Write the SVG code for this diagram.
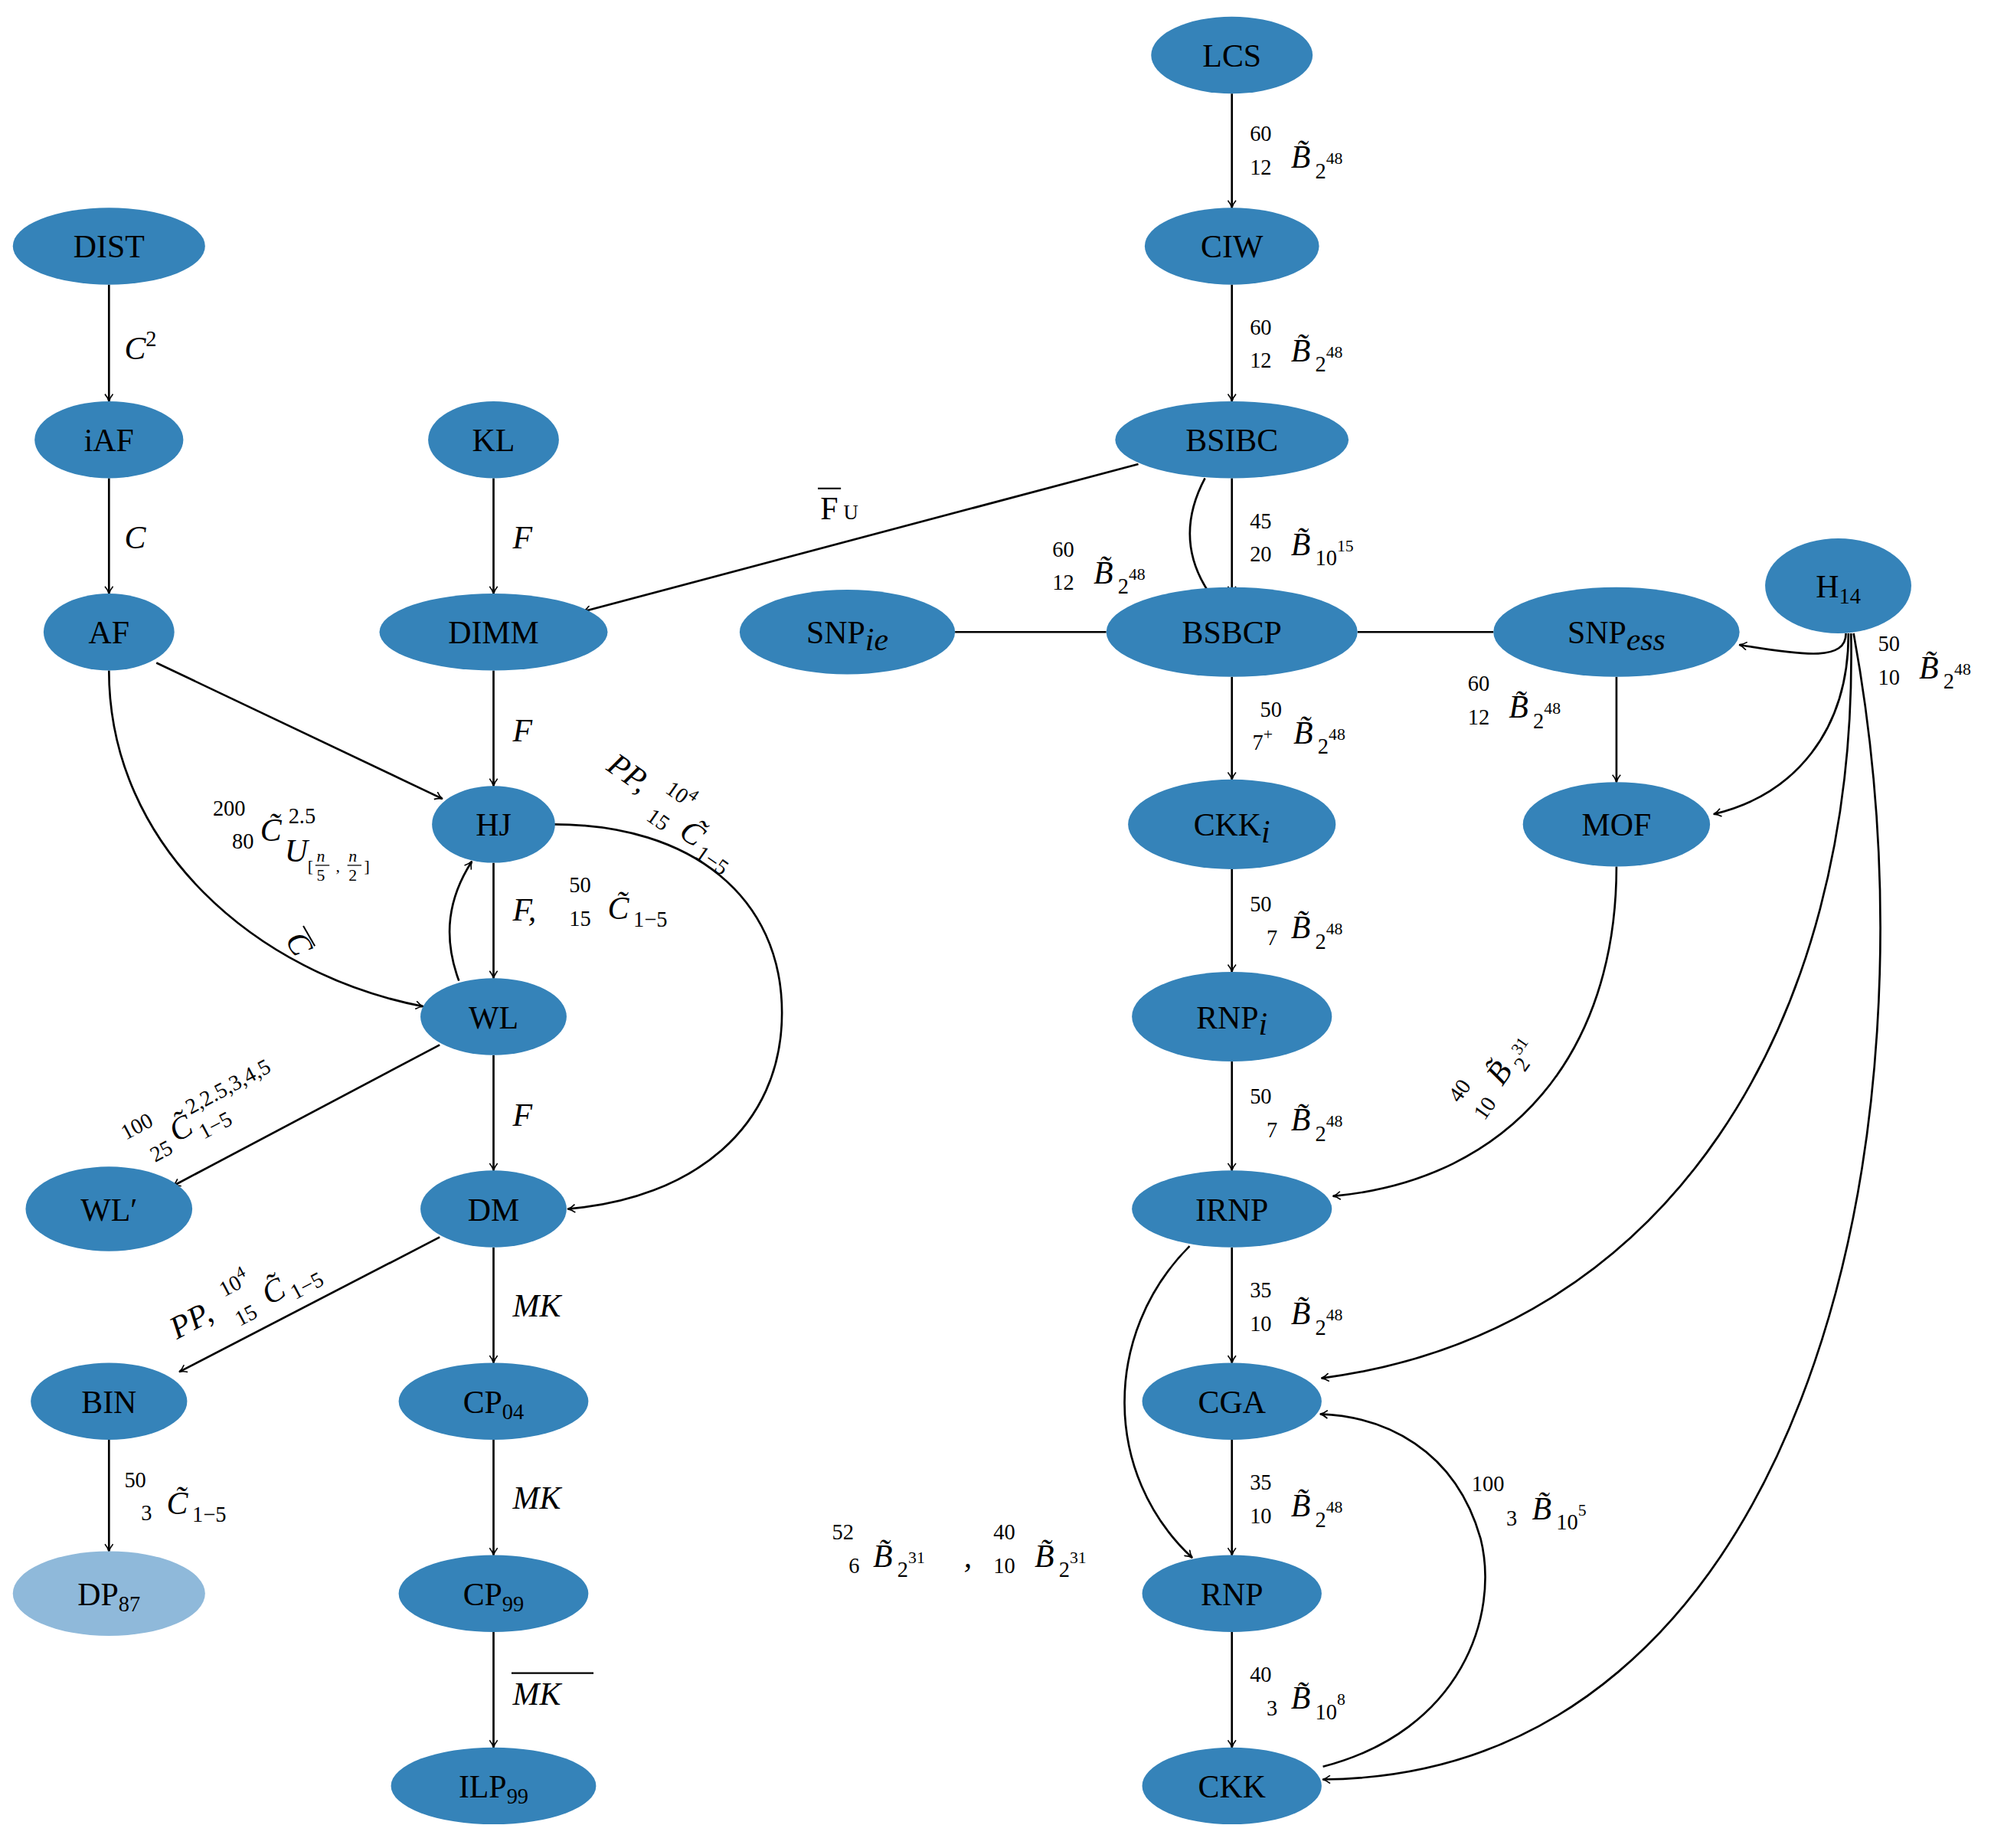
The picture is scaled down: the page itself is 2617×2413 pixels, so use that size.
<svg xmlns="http://www.w3.org/2000/svg" width="2617" height="2413" viewBox="0 0 2617 2413">
<style>
.n{fill:#3583b9}
.t{font-family:"Liberation Serif",serif;font-size:25px;fill:#000;text-anchor:middle}
.ts{font-family:"Liberation Serif",serif;font-size:16px}
.m{font-family:"Liberation Serif",serif;font-size:25px;font-style:italic}
.s{font-family:"Liberation Serif",serif;font-size:17px}
.ss{font-family:"Liberation Serif",serif;font-size:13px}
.e{fill:none;stroke:#000;stroke-width:1.6}
.a{marker-end:url(#ar)}
</style>
<defs>
<marker id="ar" viewBox="0 0 10 10" refX="9" refY="5" markerWidth="7" markerHeight="7" markerUnits="userSpaceOnUse" orient="auto">
<path d="M1,0.5 Q5,4 9.5,5 Q5,6 1,9.5" fill="none" stroke="#000" stroke-width="1.4"/>
</marker>
</defs>
<rect width="2617" height="2413" fill="#fff"/>
<g transform="scale(1.674)">
<g id="connectors">
<path class="e a" d="M961,73V162"/>
<path class="e a" d="M961,222V313"/>
<path class="e a" d="M961,373V463"/>
<path class="e a" d="M961,528V608"/>
<path class="e a" d="M961,678V758"/>
<path class="e a" d="M961,828V913"/>
<path class="e a" d="M961,973V1063"/>
<path class="e a" d="M961,1123V1213"/>
<path class="e a" d="M961,1273V1363"/>
<path class="e a" d="M1261,528V610"/>
<path class="e a" d="M85,222V313"/>
<path class="e a" d="M85,373V463"/>
<path class="e a" d="M385,373V463"/>
<path class="e a" d="M385,523V613"/>
<path class="e a" d="M385,673V763"/>
<path class="e a" d="M385,823V913"/>
<path class="e a" d="M385,973V1063"/>
<path class="e a" d="M385,1123V1213"/>
<path class="e a" d="M385,1273V1363"/>
<path class="e a" d="M85,1123V1210"/>
<path class="e a" d="M888,362L455,477"/>
<path class="e" d="M940,373Q915,420 943,462"/>
<path class="e" d="M745,493H863"/>
<path class="e" d="M1059,493H1165"/>
<path class="e a" d="M1440,494C1440,515 1410,512 1357,503"/>
<path class="e a" d="M1442,494C1442,570 1400,620 1337,635"/>
<path class="e a" d="M1444,494C1450,800 1300,1040 1031,1075"/>
<path class="e a" d="M1446,494C1520,900 1400,1385 1032,1388"/>
<path class="e a" d="M1261,676C1261,820 1180,920 1040,933"/>
<path class="e a" d="M928,972C860,1040 860,1150 930,1215"/>
<path class="e a" d="M1032,1378C1140,1350 1170,1260 1155,1200C1135,1130 1080,1105 1030,1103"/>
<path class="e a" d="M122,517L345,623"/>
<path class="e a" d="M85,523C85,660 200,760 330,785"/>
<path class="e a" d="M432,643C540,643 610,700 610,790C610,880 540,935 443,943"/>
<path class="e a" d="M358,765C345,730 350,700 368,672"/>
<path class="e a" d="M343,815L135,925"/>
<path class="e a" d="M343,965L140,1070"/>
</g>
<g id="LCS"><ellipse class="n" cx="961" cy="43" rx="63" ry="30"/><text class="t" x="961" y="52">LCS</text></g>
<g id="CIW"><ellipse class="n" cx="961" cy="192" rx="68" ry="30"/><text class="t" x="961" y="201">CIW</text></g>
<g id="BSIBC"><ellipse class="n" cx="961" cy="343" rx="91" ry="30"/><text class="t" x="961" y="352">BSIBC</text></g>
<g id="DIST"><ellipse class="n" cx="85" cy="192" rx="75" ry="30"/><text class="t" x="85" y="201">DIST</text></g>
<g id="iAF"><ellipse class="n" cx="85" cy="343" rx="58" ry="30"/><text class="t" x="85" y="352">iAF</text></g>
<g id="KL"><ellipse class="n" cx="385" cy="343" rx="51" ry="30"/><text class="t" x="385" y="352">KL</text></g>
<g id="AF"><ellipse class="n" cx="85" cy="493" rx="51" ry="30"/><text class="t" x="85" y="502">AF</text></g>
<g id="DIMM"><ellipse class="n" cx="385" cy="493" rx="89" ry="30"/><text class="t" x="385" y="502">DIMM</text></g>
<g id="SNPie"><ellipse class="n" cx="661" cy="493" rx="84" ry="33"/><text class="t" x="661" y="502">SNP<tspan class="m" font-size="17" dy="5">ie</tspan></text></g>
<g id="BSBCP"><ellipse class="n" cx="961" cy="493" rx="98" ry="35"/><text class="t" x="961" y="502">BSBCP</text></g>
<g id="SNPess"><ellipse class="n" cx="1261" cy="493" rx="96" ry="35"/><text class="t" x="1261" y="502">SNP<tspan class="m" font-size="17" dy="5">ess</tspan></text></g>
<g id="H14"><ellipse class="n" cx="1434" cy="457" rx="57" ry="37"/><text class="t" x="1434" y="466">H<tspan font-size="17" dy="5">14</tspan></text></g>
<g id="HJ"><ellipse class="n" cx="385" cy="643" rx="48" ry="30"/><text class="t" x="385" y="652">HJ</text></g>
<g id="CKKi"><ellipse class="n" cx="961" cy="643" rx="81" ry="35"/><text class="t" x="961" y="652">CKK<tspan class="m" font-size="17" dy="5">i</tspan></text></g>
<g id="MOF"><ellipse class="n" cx="1261" cy="643" rx="73" ry="33"/><text class="t" x="1261" y="652">MOF</text></g>
<g id="WL"><ellipse class="n" cx="385" cy="793" rx="57" ry="30"/><text class="t" x="385" y="802">WL</text></g>
<g id="RNPi"><ellipse class="n" cx="961" cy="793" rx="78" ry="35"/><text class="t" x="961" y="802">RNP<tspan class="m" font-size="17" dy="5">i</tspan></text></g>
<g id="WLp"><ellipse class="n" cx="85" cy="943" rx="65" ry="33"/><text class="t" x="85" y="952">WL′</text></g>
<g id="DM"><ellipse class="n" cx="385" cy="943" rx="57" ry="30"/><text class="t" x="385" y="952">DM</text></g>
<g id="IRNP"><ellipse class="n" cx="961" cy="943" rx="78" ry="30"/><text class="t" x="961" y="952">IRNP</text></g>
<g id="BIN"><ellipse class="n" cx="85" cy="1093" rx="61" ry="30"/><text class="t" x="85" y="1102">BIN</text></g>
<g id="CP04"><ellipse class="n" cx="385" cy="1093" rx="74" ry="30"/><text class="t" x="385" y="1102">CP<tspan font-size="17" dy="5">04</tspan></text></g>
<g id="CGA"><ellipse class="n" cx="961" cy="1093" rx="70" ry="30"/><text class="t" x="961" y="1102">CGA</text></g>
<g id="DP87"><ellipse cx="85" cy="1243" rx="75" ry="33" fill="#8fb9da"/><text class="t" x="85" y="1252">DP<tspan font-size="17" dy="5">87</tspan></text></g>
<g id="CP99"><ellipse class="n" cx="385" cy="1243" rx="74" ry="30"/><text class="t" x="385" y="1252">CP<tspan font-size="17" dy="5">99</tspan></text></g>
<g id="RNP"><ellipse class="n" cx="961" cy="1243" rx="70" ry="30"/><text class="t" x="961" y="1252">RNP</text></g>
<g id="ILP99"><ellipse class="n" cx="385" cy="1393" rx="80" ry="30"/><text class="t" x="385" y="1402">ILP<tspan font-size="17" dy="5">99</tspan></text></g>
<g id="CKK"><ellipse class="n" cx="961" cy="1393" rx="70" ry="30"/><text class="t" x="961" y="1402">CKK</text></g>
<g id="labels">
<g><text class="s" x="975" y="110">60</text><text class="s" x="975" y="136">12</text><text class="m" x="1007" y="131">B̃</text><text class="s" x="1026" y="139">2<tspan class="ss" dy="-11">48</tspan></text></g>
<g><text class="s" x="975" y="261">60</text><text class="s" x="975" y="287">12</text><text class="m" x="1007" y="282">B̃</text><text class="s" x="1026" y="290">2<tspan class="ss" dy="-11">48</tspan></text></g>
<g><text class="s" x="975" y="412">45</text><text class="s" x="975" y="438">20</text><text class="m" x="1007" y="433">B̃</text><text class="s" x="1026" y="441">10<tspan class="ss" dy="-11">15</tspan></text></g>
<g><text class="s" x="821" y="434">60</text><text class="s" x="821" y="460">12</text><text class="m" x="853" y="455">B̃</text><text class="s" x="872" y="463">2<tspan class="ss" dy="-11">48</tspan></text></g>
<g><text class="s" x="983" y="559">50</text><text class="s" x="977" y="585">7<tspan class="ss" dy="-8">+</tspan></text><text class="m" x="1009" y="580">B̃</text><text class="s" x="1028" y="588">2<tspan class="ss" dy="-11">48</tspan></text></g>
<g><text class="s" x="1145" y="539">60</text><text class="s" x="1145" y="565">12</text><text class="m" x="1177" y="560">B̃</text><text class="s" x="1196" y="568">2<tspan class="ss" dy="-11">48</tspan></text></g>
<g><text class="s" x="1465" y="508">50</text><text class="s" x="1465" y="534">10</text><text class="m" x="1497" y="529">B̃</text><text class="s" x="1516" y="537">2<tspan class="ss" dy="-11">48</tspan></text></g>
<g><text class="s" x="975" y="711">50</text><text class="s" x="988" y="737">7</text><text class="m" x="1007" y="732">B̃</text><text class="s" x="1026" y="740">2<tspan class="ss" dy="-11">48</tspan></text></g>
<g><text class="s" x="975" y="861">50</text><text class="s" x="988" y="887">7</text><text class="m" x="1007" y="882">B̃</text><text class="s" x="1026" y="890">2<tspan class="ss" dy="-11">48</tspan></text></g>
<g transform="translate(1140,862) rotate(-55)"><text class="s" x="0" y="-2">40</text><text class="s" x="0" y="22">10</text><text class="m" x="30" y="18">B̃</text><text class="s" x="49" y="26">2<tspan class="ss" dy="-11">31</tspan></text></g>
<g><text class="s" x="975" y="1012">35</text><text class="s" x="975" y="1038">10</text><text class="m" x="1007" y="1033">B̃</text><text class="s" x="1026" y="1041">2<tspan class="ss" dy="-11">48</tspan></text></g>
<g><text class="s" x="975" y="1162">35</text><text class="s" x="975" y="1188">10</text><text class="m" x="1007" y="1183">B̃</text><text class="s" x="1026" y="1191">2<tspan class="ss" dy="-11">48</tspan></text></g>
<g><text class="s" x="1148" y="1163">100</text><text class="s" x="1175" y="1190">3</text><text class="m" x="1195" y="1185">B̃</text><text class="s" x="1214" y="1193">10<tspan class="ss" dy="-11">5</tspan></text></g>
<g><text class="s" x="649" y="1201">52</text><text class="s" x="662" y="1227">6</text><text class="m" x="681" y="1222">B̃</text><text class="s" x="700" y="1230">2<tspan class="ss" dy="-11">31</tspan></text><text class="m" x="752" y="1222">,</text>
<text class="s" x="775" y="1201">40</text><text class="s" x="775" y="1227">10</text><text class="m" x="807" y="1222">B̃</text><text class="s" x="826" y="1230">2<tspan class="ss" dy="-11">31</tspan></text></g>
<g><text class="s" x="975" y="1312">40</text><text class="s" x="988" y="1338">3</text><text class="m" x="1007" y="1333">B̃</text><text class="s" x="1026" y="1341">10<tspan class="ss" dy="-11">8</tspan></text></g>
<text class="m" x="97" y="280">C<tspan class="s" font-style="normal" dy="-10">2</tspan></text>
<text class="m" x="97" y="428">C</text>
<text class="m" x="400" y="428">F</text>
<text class="m" x="400" y="578">F</text>
<text class="m" x="400" y="878">F</text>
<g><text class="m" x="400" y="718">F,</text><text class="s" x="444" y="696">50</text><text class="s" x="444" y="722">15</text><text class="m" x="474" y="717">C̃</text><text class="s" x="494" y="723">1−5</text></g>
<g><text class="s" x="166" y="636">200</text><text class="s" x="181" y="662">80</text><text class="m" x="203" y="656">C̃</text><text class="s" x="225" y="642">2.5</text><text class="m" x="222" y="672" font-size="20">U</text><text class="ss" x="240" y="680">[</text><text class="ss" x="247" y="672" font-style="italic">n</text><text class="ss" x="247" y="687">5</text><text class="ss" x="262" y="680">,</text><text class="ss" x="272" y="672" font-style="italic">n</text><text class="ss" x="272" y="687">2</text><text class="ss" x="284" y="680">]</text><path d="M246,675H257M271,675H282" stroke="#000" stroke-width="0.8"/></g>
<g transform="translate(222,733) rotate(60)"><text class="m" x="0" y="0">C</text><path d="M-2,-18H16" stroke="#000" stroke-width="1.2"/></g>
<g transform="translate(472,600) rotate(35)"><text class="m" x="0" y="0">PP,</text><text class="s" x="48" y="-12">10<tspan class="ss" dy="-7">4</tspan></text><text class="s" x="48" y="14">15</text><text class="m" x="76" y="10">C̃</text><text class="s" x="96" y="16">1−5</text></g>
<g transform="translate(100,893) rotate(-28)"><text class="s" x="0" y="-4">100</text><text class="s" x="12" y="22">25</text><text class="m" x="34" y="16">C̃</text><text class="s" x="54" y="2">2,2.5,3,4,5</text><text class="s" x="54" y="24">1−5</text></g>
<g transform="translate(138,1045) rotate(-28)"><text class="m" x="0" y="0">PP,</text><text class="s" x="48" y="-12">10<tspan class="ss" dy="-7">4</tspan></text><text class="s" x="48" y="14">15</text><text class="m" x="76" y="10">C̃</text><text class="s" x="96" y="16">1−5</text></g>
<text class="m" x="400" y="1027">MK</text>
<text class="m" x="400" y="1177">MK</text>
<g><text class="m" x="400" y="1330">MK</text><path d="M399,1305H463" stroke="#000" stroke-width="1.3"/></g>
<g><text class="s" x="97" y="1160">50</text><text class="s" x="110" y="1186">3</text><text class="m" x="130" y="1181">C̃</text><text class="s" x="150" y="1187">1−5</text></g>
<g><text x="640" y="405" font-family="Liberation Serif,serif" font-size="25">F</text><path d="M638,381H656" stroke="#000" stroke-width="1.3"/><text class="ts" x="658" y="405" font-size="18">U</text></g>
</g>
</g>
</svg>
